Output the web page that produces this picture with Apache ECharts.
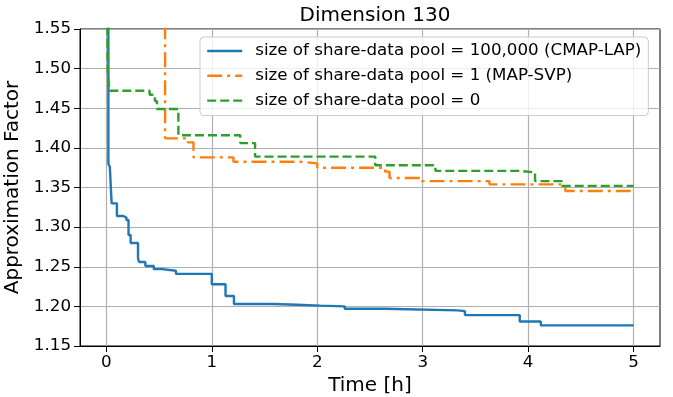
<!DOCTYPE html>
<html>
<head>
<meta charset="utf-8">
<script src="https://cdn.jsdelivr.net/npm/echarts@6/dist/echarts.min.js"></script>
<style>
html,body{margin:0;padding:0;background:#fff;}
#chart{width:673px;height:397px;}
</style>
</head>
<body>
<div id="chart"></div>
<script>
const titleText = 'Dimension 130';
const xName = 'Time [h]';
const yName = 'Approximation Factor';
const xTicks = [0, 1, 2, 3, 4, 5];
const seriesNames = [
  'size of share-data pool = 100,000 (CMAP-LAP)',
  'size of share-data pool = 1 (MAP-SVP)',
  'size of share-data pool = 0'
];
const lapTime  = [0, 0.019, 0.033, 0.05, 0.10, 0.16, 0.19, 0.21, 0.23, 0.30, 0.31, 0.37, 0.45, 0.53, 0.66, 1.00, 1.13, 1.21, 1.58, 1.81, 2.03, 2.26, 2.64, 3.33, 3.40, 3.92, 4.12, 5.00];
const lapValue = [1.80, 1.380, 1.376, 1.330, 1.314, 1.312, 1.309, 1.290, 1.280, 1.261, 1.256, 1.251, 1.247, 1.245, 1.241, 1.228, 1.213, 1.203, 1.202, 1.201, 1.200, 1.197, 1.195, 1.194, 1.189, 1.181, 1.176, 1.176];
const svpTime  = [0, 0.557, 0.772, 0.826, 1.205, 1.836, 2.00, 2.644, 2.685, 2.992, 3.633, 4.352, 5.00];
const svpValue = [1.80, 1.412, 1.407, 1.388, 1.3825, 1.3805, 1.375, 1.370, 1.362, 1.358, 1.354, 1.3456, 1.3456];
const noneTime  = [0, 0.013, 0.028, 0.41, 0.46, 0.48, 0.683, 1.27, 1.41, 2.55, 3.12, 3.92, 4.065, 4.32, 5.00];
const noneValue = [1.80, 1.498, 1.472, 1.467, 1.459, 1.449, 1.416, 1.406, 1.389, 1.378, 1.371, 1.369, 1.358, 1.352, 1.352];

const colors = ['#1f77b4', '#ff7f0e', '#2ca02c'];
const dashes = ['solid', [15, 5, 3, 5], [9, 4]];
const FONT = 'DejaVu Sans';

function pairs(t, v) { return t.map((x, i) => [x, v[i]]); }
const allData = [pairs(lapTime, lapValue), pairs(svpTime, svpValue), pairs(noneTime, noneValue)];

const chart = echarts.init(document.getElementById('chart'), null, {renderer: 'canvas'});
chart.setOption({
  animation: false,
  backgroundColor: '#fff',
  textStyle: {fontFamily: FONT},
  title: {
    text: titleText,
    left: 370, textAlign: 'center',
    top: 1,
    textStyle: {fontFamily: FONT, fontSize: 20, fontWeight: 'normal', color: '#000'}
  },
  grid: {
    left: 80, right: 13, top: 29, bottom: 51,
    containLabel: false, outerBoundsMode: 'none',
    show: true, borderColor: '#000', borderWidth: 1, backgroundColor: 'transparent'
  },
  legend: {
    orient: 'vertical',
    left: 200, top: 37,
    padding: [4, 7, 5, 6],
    itemGap: 4.8,
    itemWidth: 35, itemHeight: 14,
    backgroundColor: 'rgba(255,255,255,0.8)',
    borderColor: '#cccccc', borderWidth: 1, borderRadius: 4,
    itemStyle: {opacity: 0},
    lineStyle: {width: 2.4},
    textStyle: {fontFamily: FONT, fontSize: 16.7, color: '#000', lineHeight: 20, padding: [0, 0, 0, 8]},
    data: seriesNames
  },
  xAxis: {
    type: 'value', min: -0.25, max: 5.25,
    name: xName, nameLocation: 'middle', nameGap: 27,
    nameTextStyle: {fontFamily: FONT, fontSize: 20, color: '#000'},
    axisLine: {show: true, onZero: false, lineStyle: {color: '#000', width: 1}},
    axisTick: {show: true, length: 6, customValues: xTicks, lineStyle: {color: '#000', width: 1}},
    axisLabel: {customValues: xTicks, margin: 8, fontFamily: FONT, fontSize: 16.7, color: '#000'},
    splitLine: {show: true, lineStyle: {color: '#b0b0b0', width: 1.2}}
  },
  yAxis: {
    type: 'value', min: 1.15, max: 1.55, interval: 0.05,
    name: yName, nameLocation: 'middle', nameGap: 49,
    nameTextStyle: {fontFamily: FONT, fontSize: 20, color: '#000'},
    axisLine: {show: true, onZero: false, lineStyle: {color: '#000', width: 1}},
    axisTick: {show: true, length: 6, lineStyle: {color: '#000', width: 1}},
    axisLabel: {margin: 9, fontFamily: FONT, fontSize: 16.7, color: '#000', formatter: v => v.toFixed(2)},
    splitLine: {show: true, lineStyle: {color: '#b0b0b0', width: 1.2}}
  },
  series: seriesNames.map((n, i) => ({
    name: n,
    type: 'line',
    step: 'end',
    symbol: 'none',
    clip: true,
    color: colors[i],
    lineStyle: {color: colors[i], width: 2.4, type: dashes[i]},
    data: allData[i]
  }))
});
</script>
</body>
</html>
